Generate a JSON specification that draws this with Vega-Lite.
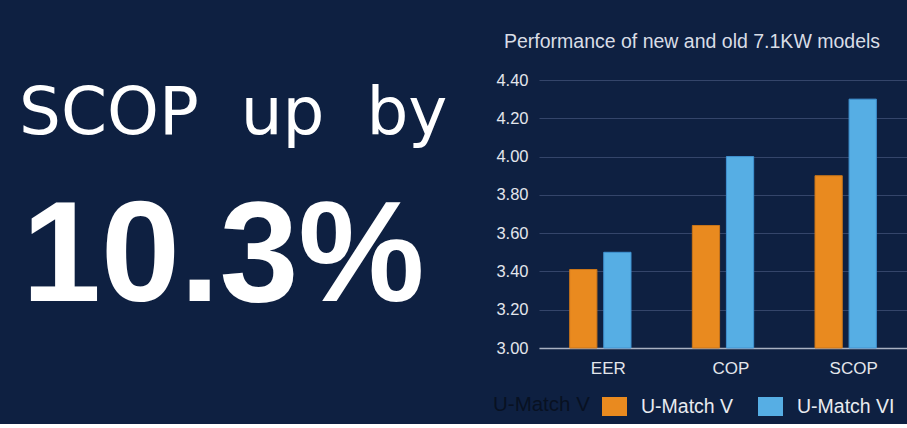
{
  "$schema": "https://vega.github.io/schema/vega-lite/v6.json",
  "background": "#0e2041",
  "autosize": {"type": "pad"},
  "padding": {"left": 0, "top": 31, "right": 0, "bottom": 8},
  "bounds": "flush",
  "spacing": 501,
  "config": {
    "view": {"stroke": null},
    "font": "Liberation Sans"
  },
  "hconcat": [
    {
      "width": 38,
      "height": 268,
      "layer": [
        {
          "data": {"values": [{"line": "SCOP\u2007up\u2007by"}]},
          "mark": {"type": "text", "align": "left", "baseline": "middle", "fontSize": 66, "font": "DejaVu Sans", "color": "#ffffff"},
          "encoding": {
            "y": {"field": "line", "type": "nominal", "scale": {"type": "band", "domain": ["SCOP\u2007up\u2007by", "10.3%"], "paddingInner": 0.5226, "paddingOuter": 0.1938, "align": 0}, "axis": null},
            "text": {"field": "line"}
          }
        },
        {
          "data": {"values": [{"line": "10.3%"}]},
          "mark": {"type": "text", "align": "left", "baseline": "middle", "fontSize": 142, "fontWeight": "bold", "font": "Liberation Sans", "color": "#ffffff", "dx": 3},
          "encoding": {
            "y": {"field": "line", "type": "nominal", "scale": {"type": "band", "domain": ["SCOP\u2007up\u2007by", "10.3%"], "paddingInner": 0.5226, "paddingOuter": 0.1938, "align": 0}, "axis": null},
            "text": {"field": "line"}
          }
        }
      ]
    },
    {
      "width": 368,
      "height": 268,
      "title": {"text": "Performance of new and old 7.1KW models", "fontSize": 19.5, "color": "#d9dde6", "font": "Liberation Sans", "fontWeight": "normal", "anchor": "middle", "frame": "group", "dx": -31, "offset": 20},
      "data": {
        "values": [
          {"metric": "EER", "model": "U-Match V", "value": 3.41},
          {"metric": "EER", "model": "U-Match VI", "value": 3.50},
          {"metric": "COP", "model": "U-Match V", "value": 3.64},
          {"metric": "COP", "model": "U-Match VI", "value": 4.00},
          {"metric": "SCOP", "model": "U-Match V", "value": 3.90},
          {"metric": "SCOP", "model": "U-Match VI", "value": 4.30}
        ]
      },
      "mark": {"type": "bar", "strokeWidth": 1},
      "encoding": {
        "x": {
          "field": "metric", "type": "nominal", "sort": ["EER", "COP", "SCOP"],
          "scale": {"paddingInner": 0.5, "paddingOuter": 0.25},
          "axis": {"title": null, "labelAngle": 0, "ticks": false, "domain": true, "domainColor": "#a9b1c2", "domainWidth": 1.5, "labelColor": "#e3e6ec", "labelFontSize": 17, "labelFont": "Liberation Sans", "labelPadding": 12, "labelOffset": 8}
        },
        "xOffset": {
          "field": "model", "type": "nominal", "sort": ["U-Match V", "U-Match VI"],
          "scale": {"paddingInner": 0.2, "paddingOuter": 0}
        },
        "y": {
          "field": "value", "type": "quantitative",
          "scale": {"domain": [3, 4.4], "zero": false, "nice": false},
          "axis": {"title": null, "values": [3, 3.2, 3.4, 3.6, 3.8, 4.0, 4.2, 4.4], "format": ".2f", "domain": false, "ticks": false, "grid": true, "gridColor": "#34456a", "gridWidth": 1, "labelColor": "#e3e6ec", "labelFontSize": 16.5, "labelFont": "Liberation Sans", "labelPadding": 11}
        },
        "y2": {"datum": 3},
        "color": {
          "field": "model", "type": "nominal",
          "scale": {"domain": ["U-Match V", "U-Match VI"], "range": ["#E98A1F", "#56AEE4"]},
          "legend": {"orient": "none", "legendX": 493, "legendY": 314, "direction": "horizontal", "title": "U-Match V", "titleOrient": "left", "titleColor": "#081122", "titleFontSize": 20.5, "titleFont": "Liberation Sans", "titleFontWeight": "normal", "titlePadding": 12, "labelColor": "#e8ebf0", "labelFontSize": 19.5, "labelFont": "Liberation Sans", "labelOffset": 14, "symbolType": "M-1,-0.76L1,-0.76L1,0.76L-1,0.76Z", "symbolSize": 625, "symbolStrokeWidth": 0, "symbolOpacity": 1, "columnPadding": 24}
        },
        "stroke": {
          "field": "model", "type": "nominal",
          "scale": {"domain": ["U-Match V", "U-Match VI"], "range": ["#c97519", "#3f92d2"]},
          "legend": null
        }
      }
    }
  ]
}
